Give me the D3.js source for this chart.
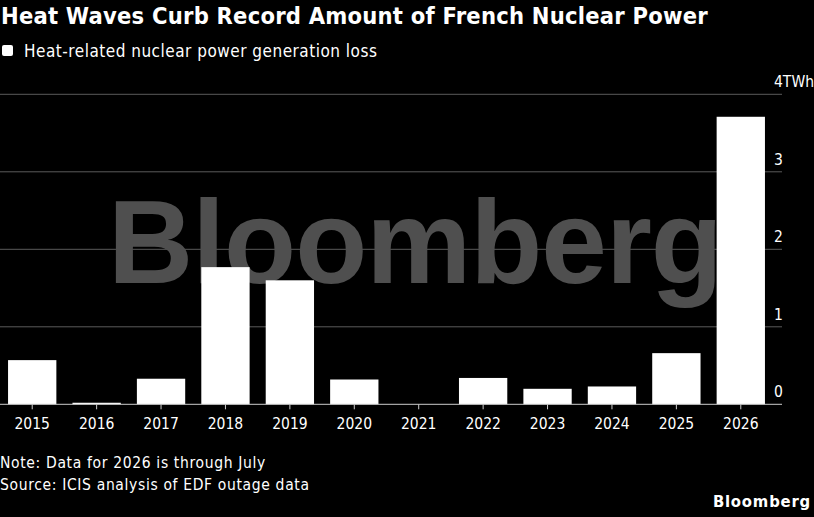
<!DOCTYPE html>
<html><head><meta charset="utf-8">
<script src="https://cdn.jsdelivr.net/npm/d3@7"></script>
<style>
html,body{margin:0;padding:0;background:#000;}
svg{display:block;}
</style></head>
<body>
<script>
const years = ["2015","2016","2017","2018","2019","2020","2021","2022","2023","2024","2025","2026"];
const loss = [0.57, 0.02, 0.33, 1.77, 1.60, 0.32, 0, 0.34, 0.20, 0.23, 0.66, 3.71];
const yTicks = [0, 1, 2, 3, 4];
const yTickLabels = ["0", "1", "2", "3", "4TWh"];

const W = 814, H = 517;
const FONT = "'DejaVu Sans Condensed', 'Liberation Sans Narrow', sans-serif";
const svg = d3.select("body").append("svg").attr("width", W).attr("height", H)
  .style("background", "#000");

const x = d3.scaleBand().domain(years).range([0, 773]).paddingInner(0.25).paddingOuter(0.125);
const y = d3.scaleLinear().domain([0, 4]).range([404.3, 94.3]);

// title
svg.append("text").attr("x", 1).attr("y", 24).attr("fill", "#fff")
  .attr("font-family", FONT).attr("font-weight", "bold").attr("font-size", 23.5)
  .attr("letter-spacing", 0.22)
  .text("Heat Waves Curb Record Amount of French Nuclear Power");

// legend
svg.append("rect").attr("x", 2).attr("y", 45).attr("width", 11).attr("height", 11)
  .attr("rx", 2).attr("fill", "#fff");
svg.append("text").attr("x", 24).attr("y", 57).attr("fill", "#fff")
  .attr("font-family", FONT).attr("font-size", 17).attr("letter-spacing", 0.5)
  .text("Heat-related nuclear power generation loss");

// gridlines
svg.append("g").selectAll("line").data(yTicks.filter(d => d > 0)).join("line")
  .attr("x1", 0).attr("x2", 782).attr("y1", d => y(d)).attr("y2", d => y(d))
  .attr("stroke", "#5a5a5a").attr("stroke-width", 1);

// watermark
svg.append("text").attr("x", 415).attr("y", 283).attr("text-anchor", "middle")
  .attr("fill", "#4f4f4f").attr("font-family", "'Liberation Sans', Arial, sans-serif")
  .attr("font-weight", "bold").attr("font-size", 118).attr("letter-spacing", -1)
  .text("Bloomberg");

// bars
svg.append("g").selectAll("rect").data(years).join("rect")
  .attr("x", d => x(d)).attr("width", x.bandwidth())
  .attr("y", (d, i) => y(loss[i])).attr("height", (d, i) => y(0) - y(loss[i]))
  .attr("fill", "#fff");

// y labels
svg.append("g").selectAll("text").data(yTicks).join("text")
  .attr("x", 774).attr("y", d => y(d) - 7).attr("fill", "#fff")
  .attr("font-family", FONT).attr("font-size", 15.5)
  .text((d, i) => yTickLabels[i]);

// x axis
const xAxis = d3.axisBottom(x).tickSize(5).tickSizeOuter(0);
const gx = svg.append("g").attr("transform", `translate(0,${y(0)})`).call(xAxis);
gx.select(".domain").remove();
gx.selectAll(".tick line").attr("stroke", "#ccc");
gx.selectAll(".tick text").attr("fill", "#fff").attr("font-family", FONT)
  .attr("font-size", 15.5).attr("dy", "1.05em");
svg.append("line").attr("x1", 0).attr("x2", 782).attr("y1", y(0)).attr("y2", y(0))
  .attr("stroke", "#ccc").attr("stroke-width", 1);

// notes
svg.append("text").attr("x", 0).attr("y", 468).attr("fill", "#fff")
  .attr("font-family", FONT).attr("font-size", 15.5).attr("letter-spacing", 0.65)
  .text("Note: Data for 2026 is through July");
svg.append("text").attr("x", 0).attr("y", 490).attr("fill", "#fff")
  .attr("font-family", FONT).attr("font-size", 15.5).attr("letter-spacing", 0.65)
  .text("Source: ICIS analysis of EDF outage data");
svg.append("text").attr("x", 811).attr("y", 507).attr("text-anchor", "end").attr("fill", "#fff")
  .attr("font-family", FONT).attr("font-weight", "bold").attr("font-size", 16.5)
  .attr("letter-spacing", 0.8)
  .text("Bloomberg");
</script>
</body></html>
